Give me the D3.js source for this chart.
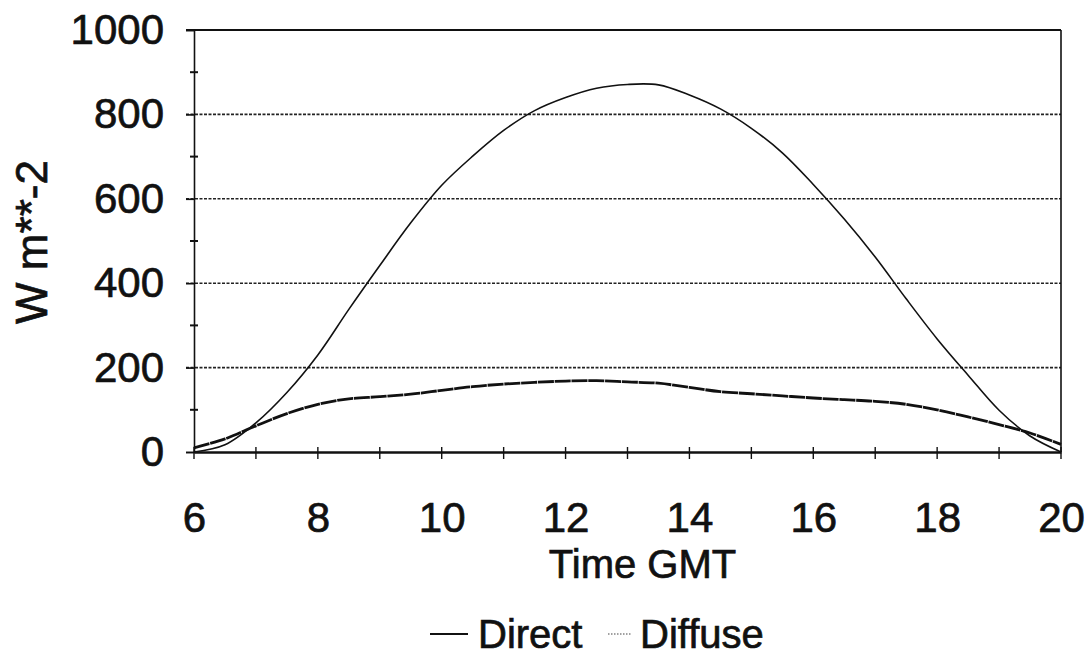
<!DOCTYPE html>
<html>
<head>
<meta charset="utf-8">
<script src="https://cdn.jsdelivr.net/npm/d3@7"></script>
<style>
  body { margin: 0; background: #fff; }
  text { font-family: "Liberation Sans", Arial, sans-serif; fill: #111; stroke: #111; stroke-width: 0.7px; }
</style>
</head>
<body>
<div id="chart"></div>
<script>
// data (half-hour steps)
const hours = [6, 6.5, 7, 7.5, 8, 8.5, 9, 9.5, 10, 10.5, 11, 11.5, 12, 12.5, 13,
  13.5, 14, 14.5, 15, 15.5, 16, 16.5, 17, 17.5, 18, 18.5, 19, 19.5, 20];
const direct = [0, 17, 69, 141, 230, 338, 442, 543, 632, 701, 762, 809, 840, 862, 871,
  870, 846, 813, 767, 709, 634, 552, 462, 363, 268, 182, 99, 38, 0];
const diffuse = [10, 31, 62, 91, 113, 126, 131, 137, 146, 155, 161, 165, 168, 169, 166,
  163, 153, 143, 138, 133, 128, 124, 120, 113, 100, 83, 65, 45, 18];
const xTicks = [6, 8, 10, 12, 14, 16, 18, 20];
const yTicks = [0, 200, 400, 600, 800, 1000];
const seriesNames = ["Direct", "Diffuse"];

const W = 1090, H = 664;
const margin = {top: 30, right: 29, bottom: 212, left: 194},
    width = W - margin.left - margin.right,
    height = H - margin.top - margin.bottom;

const svg = d3.select("#chart")
  .append("svg")
    .attr("width", W)
    .attr("height", H)
  .append("g")
    .attr("transform", `translate(${margin.left},${margin.top})`);

const x = d3.scaleLinear().domain([6, 20]).range([0, width]);
const y = d3.scaleLinear().domain([0, 1000]).range([height, 0]);

// dotted gridlines
svg.append("g")
  .selectAll("line")
  .data(yTicks.filter(d => d > 0 && d < 1000))
  .join("line")
    .attr("x1", -8).attr("x2", width)
    .attr("y1", d => y(d)).attr("y2", d => y(d))
    .attr("stroke", "#222")
    .attr("stroke-width", 1.6)
    .attr("stroke-dasharray", "3,1.5");

// frame: top and right
svg.append("line").attr("x1", -8).attr("x2", width).attr("y1", 0).attr("y2", 0)
  .attr("stroke", "#111").attr("stroke-width", 2.2);
svg.append("line").attr("x1", width).attr("x2", width).attr("y1", 0).attr("y2", height)
  .attr("stroke", "#111").attr("stroke-width", 1.6);

// y axis with minor ticks
const yAxis = svg.append("g")
  .call(d3.axisLeft(y).tickValues(yTicks).tickFormat(d3.format("d")).tickSize(8).tickPadding(22));
yAxis.select(".domain").attr("stroke", "#111").attr("stroke-width", 1.6);
yAxis.selectAll(".tick line").attr("stroke", "#111").attr("stroke-width", 1.6);
yAxis.selectAll(".tick text")
  .attr("font-size", 42).attr("fill", "#111")
  .attr("font-family", "Liberation Sans, Arial, sans-serif");
svg.append("g")
  .selectAll("line")
  .data(d3.range(100, 1000, 200))
  .join("line")
    .attr("x1", -4).attr("x2", 4)
    .attr("y1", d => y(d)).attr("y2", d => y(d))
    .attr("stroke", "#111").attr("stroke-width", 2);

// x axis
const xAxis = svg.append("g")
  .attr("transform", `translate(0,${height})`)
  .call(d3.axisBottom(x).tickValues(xTicks).tickSize(0).tickPadding(50));
xAxis.select(".domain").attr("stroke", "#111").attr("stroke-width", 2.6);
xAxis.selectAll(".tick text")
  .attr("font-size", 42).attr("fill", "#111")
  .attr("font-family", "Liberation Sans, Arial, sans-serif");
svg.append("g")
  .selectAll("line")
  .data(d3.range(6, 21, 1))
  .join("line")
    .attr("x1", d => x(d)).attr("x2", d => x(d))
    .attr("y1", height - 5).attr("y2", height + 7)
    .attr("stroke", "#111").attr("stroke-width", 1.4);

// axis titles
svg.append("text")
  .attr("x", width / 2 + 15).attr("y", height + 126)
  .attr("text-anchor", "middle")
  .attr("font-size", 40)
  .text("Time GMT");
svg.append("text")
  .attr("transform", `translate(${-margin.left + 47},${y(500) + 1}) rotate(-90)`)
  .attr("text-anchor", "middle")
  .attr("font-size", 44)
  .text("W m**-2");

// lines
const rows = hours.map((h, i) => ({h: h, direct: direct[i], diffuse: diffuse[i]}));
const line = key => d3.line()
  .curve(d3.curveCatmullRom)
  .x(d => x(d.h))
  .y(d => y(d[key]));

svg.append("path")
  .datum(rows)
  .attr("fill", "none")
  .attr("stroke", "#111")
  .attr("stroke-width", 1.6)
  .attr("d", line("direct"));

svg.append("path")
  .datum(rows)
  .attr("fill", "none")
  .attr("stroke", "#111")
  .attr("stroke-width", 2.8)
  .attr("stroke-dasharray", "16,0.8")
  .attr("d", line("diffuse"));

// legend
const legend = svg.append("g").attr("transform", `translate(0,${height + 196})`);
legend.append("line")
  .attr("x1", 236).attr("x2", 274).attr("y1", -14).attr("y2", -14)
  .attr("stroke", "#111").attr("stroke-width", 2);
legend.append("text").attr("x", 284).attr("y", 0).attr("font-size", 40).text(seriesNames[0]);
legend.append("line")
  .attr("x1", 414).attr("x2", 438).attr("y1", -14).attr("y2", -14)
  .attr("stroke", "#444").attr("stroke-width", 1.2)
  .attr("stroke-dasharray", "1.5,1.5");
legend.append("text").attr("x", 446).attr("y", 0).attr("font-size", 40).text(seriesNames[1]);
</script>
</body>
</html>
